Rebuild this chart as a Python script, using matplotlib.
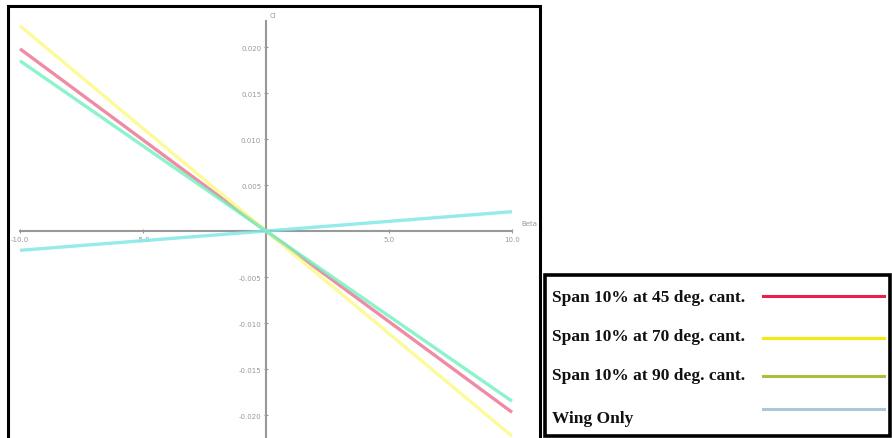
import matplotlib
matplotlib.use("Agg")
import matplotlib.pyplot as plt
from matplotlib.patches import Rectangle
from matplotlib.lines import Line2D

beta = [-10.0, 0.0, 10.0]
span45 = [0.0198, 0.0, -0.0197]
span70 = [0.0223, 0.0, -0.0223]
span90 = [0.0185, 0.0, -0.0185]
wing_only = [-0.0021, 0.0, 0.0021]

series_labels = ["Span 10% at 45 deg. cant.", "Span 10% at 70 deg. cant.",
                 "Span 10% at 90 deg. cant.", "Wing Only"]
plot_colors = ["#ec6f8c", "#fafa80", "#6ff0c0", "#7ae6e4"]
legend_colors = ["#e8204a", "#f5ea10", "#a8c040", "#a8cad8"]

yticks = [-0.020, -0.015, -0.010, -0.005, 0.005, 0.010, 0.015, 0.020]
xticks = [-10.0, -5.0, 5.0, 10.0]

W, H = 892, 439
fig = plt.figure(figsize=(W / 100, H / 100), dpi=100)

# main chart axes
ax = fig.add_axes([9 / W, 0, (540 - 9) / W, (H - 8) / H])
ax.set_xlim(-10.447, 11.138)
ax.set_ylim(-0.0225, 0.02435)
ax.set_facecolor("white")

for vals, c in zip([span45, span70, span90, wing_only], plot_colors):
    ax.plot(beta, vals, color=c, lw=2.4, alpha=0.8, solid_capstyle="butt", zorder=3)

ax.spines["right"].set_visible(False)
ax.spines["top"].set_visible(False)
ax.spines["left"].set_position(("data", 0))
ax.spines["bottom"].set_position(("data", 0))
ax.spines["left"].set_bounds(-0.0225, 0.0228)
ax.spines["bottom"].set_bounds(-10, 10)
for s in ["left", "bottom"]:
    ax.spines[s].set_color("#999999")
    ax.spines[s].set_linewidth(1.5)
    ax.spines[s].set_zorder(2)

ax.set_yticks(yticks)
ax.set_yticklabels([f"{v:.3f}" for v in yticks])
ax.set_xticks(xticks)
ax.set_xticklabels([f"{v:.1f}" for v in xticks])
ax.tick_params(axis="both", colors="#999999", labelcolor="#999999",
               labelsize=5, length=3, width=0.8, direction="inout", pad=2)
ax.text(0.3, 0.0235, "Cl", fontsize=5, color="#999999", ha="center", va="center")
ax.text(10.7, 0.0009, "Beta", fontsize=5, color="#999999", ha="center", va="center")

# chart frame
fig.patches.append(Rectangle((8 / W, -0.05), (540 - 8) / W, (H - 7) / H + 0.05,
                             transform=fig.transFigure, fill=False,
                             edgecolor="black", lw=2.2, zorder=10))

# legend box
lax = fig.add_axes([544 / W, 0, (892 - 544) / W, (H - 277) / H])
lax.set_xlim(544, 892)
lax.set_ylim(H, 277)
lax.set_xticks([])
lax.set_yticks([])
for s in lax.spines.values():
    s.set_visible(False)
fig.patches.append(Rectangle((545 / W, 2 / H), (890 - 545) / W, (H - 278) / H,
                             transform=fig.transFigure, fill=False,
                             edgecolor="black", lw=2.6, zorder=10))
text_y = [298, 337, 376, 419]
line_y = [297, 339, 377, 410]
for lbl, c, ty, ly in zip(series_labels, legend_colors, text_y, line_y):
    lax.text(552, ty, lbl, fontsize=12.5, fontweight="bold",
             family="Liberation Serif", ha="left", va="center", color="#111111")
    lax.add_line(Line2D([763, 884], [ly, ly], color=c, lw=2.2))

fig.savefig("out.png", dpi=100)
